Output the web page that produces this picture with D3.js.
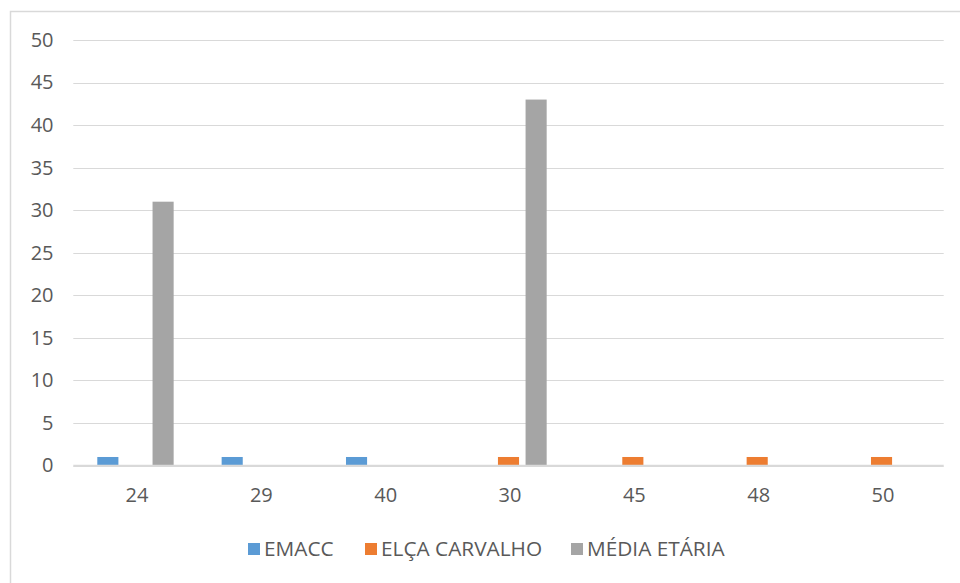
<!DOCTYPE html>
<html>
<head>
<meta charset="utf-8">
<script src="https://cdn.jsdelivr.net/npm/d3@7"></script>
<style>
  html, body { margin: 0; padding: 0; background: #fff; }
  svg { display: block; }
  text { font-family: "Open Sans", "Noto Sans", sans-serif; fill: #595959; }
</style>
</head>
<body>
<script>
const categories = ["24", "29", "40", "30", "45", "48", "50"];
const seriesNames = ["EMACC", "ELÇA CARVALHO", "MÉDIA ETÁRIA"];
const emacc = [1, 1, 1, 0, 0, 0, 0];
const elcaCarvalho = [0, 0, 0, 1, 1, 1, 1];
const mediaEtaria = [31, 0, 0, 43, 0, 0, 0];
const yTicks = [0, 5, 10, 15, 20, 25, 30, 35, 40, 45, 50];
const colors = ["#5B9BD5", "#ED7D31", "#A5A5A5"];

const seriesValues = [emacc, elcaCarvalho, mediaEtaria];
const W = 960, H = 583;
const plot = { left: 73.3, right: 943.7, top: 40, bottom: 465.5 };

const svg = d3.select("body").append("svg").attr("width", W).attr("height", H);

// chart border
svg.append("rect").attr("x", 10.5).attr("y", 11.5).attr("width", 960).attr("height", 600)
  .attr("fill", "#fff").attr("stroke", "#d9d9d9").attr("stroke-width", 1.5);

const y = d3.scaleLinear().domain([0, 50]).range([plot.bottom, plot.top]);
const x0 = d3.scaleBand().domain(categories).range([plot.left, plot.right]).padding(0);
const bw = x0.bandwidth();
const x1 = d3.scaleBand().domain(seriesNames).range([bw * 0.193, bw * 0.807]).paddingInner(0.236).paddingOuter(0);

// gridlines
svg.append("g").selectAll("line").data(yTicks).join("line")
  .attr("x1", plot.left).attr("x2", plot.right)
  .attr("y1", d => Math.round(y(d)) + 0.5).attr("y2", d => Math.round(y(d)) + 0.5)
  .attr("stroke", "#d9d9d9").attr("stroke-width", 1.2);

// y axis labels
const yAxis = d3.axisLeft(y).tickValues(yTicks).tickSize(0).tickPadding(0);
const gy = svg.append("g").attr("transform", `translate(${53.5},0)`).call(yAxis);
gy.select(".domain").remove();
gy.selectAll("text").attr("font-size", 20).attr("fill", "#595959")
  .style("font-family", '"Open Sans", sans-serif');

// bars
const data = [];
categories.forEach((c, i) => seriesNames.forEach((s, j) => data.push({ c, s, j, v: seriesValues[j][i] })));
svg.append("g").selectAll("rect").data(data.filter(d => d.v > 0)).join("rect")
  .attr("x", d => x0(d.c) + x1(d.s))
  .attr("width", x1.bandwidth())
  .attr("y", d => y(d.v))
  .attr("height", d => y(0) - y(d.v))
  .attr("fill", d => colors[d.j]);

// x axis
const xAxis = d3.axisBottom(x0).tickSize(0).tickPadding(0);
const gx = svg.append("g").attr("transform", `translate(1.5,${plot.bottom + 22})`).call(xAxis);
gx.select(".domain").remove();
gx.selectAll("text").attr("font-size", 20).attr("fill", "#595959").attr("dy", "0.71em")
  .style("font-family", '"Open Sans", sans-serif');

// baseline
svg.append("line").attr("x1", plot.left).attr("x2", plot.right)
  .attr("y1", y(0)).attr("y2", y(0)).attr("stroke", "#d9d9d9").attr("stroke-width", 1.5);

// legend
const legendX = [248, 365, 571];
const lg = svg.append("g");
seriesNames.forEach((s, j) => {
  lg.append("rect").attr("x", legendX[j]).attr("y", 543).attr("width", 12).attr("height", 12).attr("fill", colors[j]);
  lg.append("text").attr("x", legendX[j] + 16).attr("y", 549).attr("dy", "0.36em")
    .attr("font-size", 20.8).text(s);
});
</script>
</body>
</html>
